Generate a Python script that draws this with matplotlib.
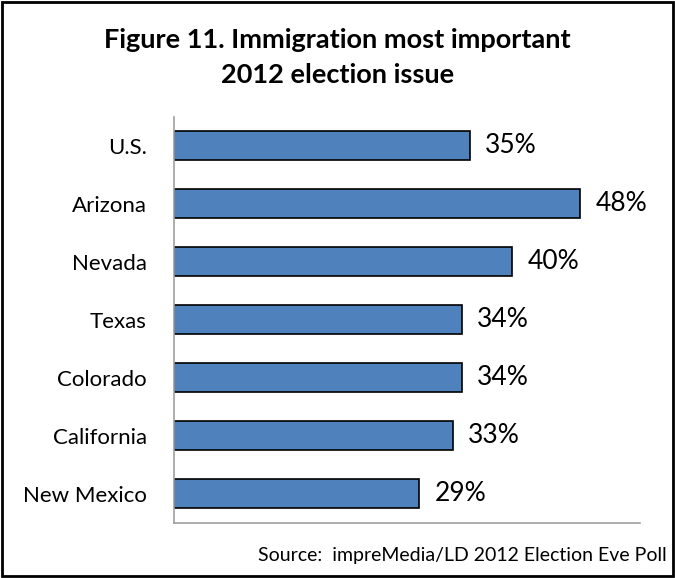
import matplotlib
matplotlib.use("Agg")
import matplotlib.pyplot as plt
from matplotlib.patches import Rectangle

plt.rcParams['font.family'] = ['Lato', 'DejaVu Sans']

states = ["U.S.", "Arizona", "Nevada", "Texas", "Colorado", "California", "New Mexico"]
percent = [35, 48, 40, 34, 34, 33, 29]
value_labels = ["35%", "48%", "40%", "34%", "34%", "33%", "29%"]

fig = plt.figure(figsize=(6.75, 5.78), dpi=100)
ax = fig.add_axes([0.2578, 0.0960, 0.6904, 0.7024])

pos = list(range(len(states)))
ax.barh(pos, percent, height=0.5, color="#4F81BD", edgecolor="black", linewidth=1.2)
ax.set_ylim(len(states) - 0.5, -0.5)
ax.set_xlim(0, 55.1)
ax.set_yticks(pos)
ax.set_yticklabels(states, fontsize=16)
ax.set_xticks([])
ax.tick_params(axis="y", length=0, pad=19.5)

for p, v, lab in zip(pos, percent, value_labels):
    ax.text(v + 1.8, p, lab, va="center", ha="left", fontsize=19)

for side in ["top", "right"]:
    ax.spines[side].set_visible(False)
ax.spines["left"].set_color("#A0A0A0")
ax.spines["bottom"].set_color("#A0A0A0")
ax.spines["left"].set_linewidth(1.2)
ax.spines["bottom"].set_linewidth(1.2)

fig.text(0.5, 1 - 48 / 578, "Figure 11. Immigration most important", ha="center", va="baseline",
         fontsize=19.5, fontweight="bold")
fig.text(0.5, 1 - 83 / 578, "2012 election issue", ha="center", va="baseline",
         fontsize=19.5, fontweight="bold")
fig.text(667 / 675, 1 - 555 / 578, "Source:  impreMedia/LD 2012 Election Eve Poll", ha="right",
         va="center", fontsize=14)

# outer frame
fig.patches.append(Rectangle((0.003, 0.003), 0.994, 0.994, transform=fig.transFigure,
                             fill=False, edgecolor="black", linewidth=2))

fig.savefig("out.png", dpi=100)
